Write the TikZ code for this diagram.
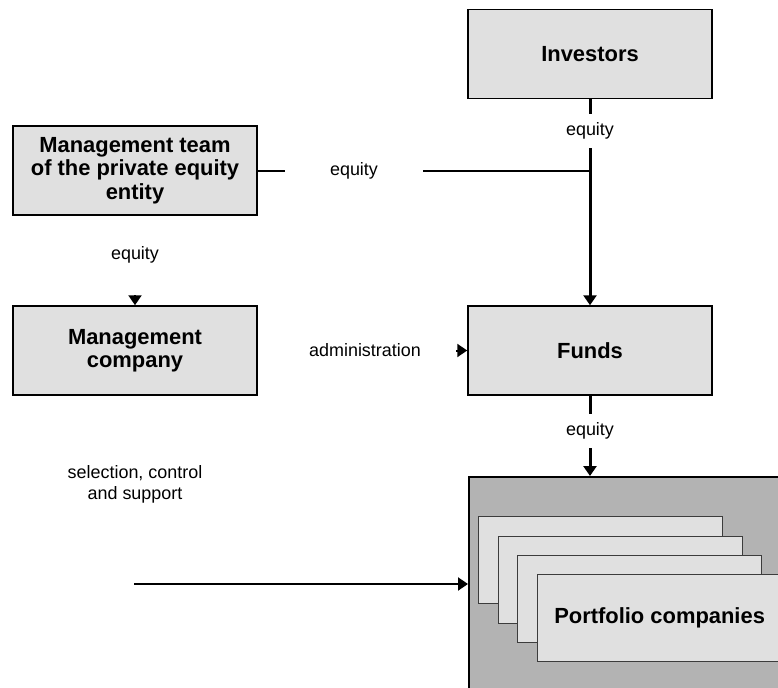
\documentclass[tikz,border=0pt]{standalone}
\usepackage{fontspec}
\setmainfont{Liberation Sans}
\usetikzlibrary{arrows.meta}
\definecolor{boxgray}{RGB}{224,224,224}
\definecolor{holdgray}{RGB}{179,179,179}
\definecolor{edgegray}{RGB}{60,60,60}
\tikzset{
  entity box/.style={%
    draw, line width=1.5bp, fill=boxgray,
    minimum width=244bp, minimum height=89bp, inner sep=0pt,
    align=center, font=\bfseries\fontsize{22}{23.5}\selectfont,
  },
  flow label/.style={inner sep=0pt, align=center, font=\fontsize{18}{21}\selectfont},
  plain flow/.style={line width=2bp},
  flow/.style={line width=2bp, -{Triangle[length=10bp,width=13bp]}},
  heavy/.style={line width=3bp},
  holding/.style={draw, line width=1.5bp, fill=holdgray, anchor=north west},
  company sheet/.style={%
    draw=edgegray, line width=1.2bp, fill=boxgray, anchor=north west,
    minimum width=244bp, minimum height=87bp, inner sep=0pt,
    font=\bfseries\fontsize{22}{24}\selectfont,
  },
}

\begin{document}
\begin{tikzpicture}[x=1bp,y=-1bp]
\useasboundingbox (0,0) rectangle (778,688);
\fill[white] (0,0) rectangle (778,688);
\clip (0,0) rectangle (778,688);
% boxes
\node[entity box] (inv) at (590,54) {Investors};
\node[entity box] (team) at (135,170.5) {Management team\\of the private equity\\entity};
\node[entity box] (mgmt) at (135,350.5) {Management\\company};
\node[entity box] (funds) at (590,350.5) {Funds};
\node[holding, minimum width=330bp, minimum height=230bp] (pf) at (468,476) {};
\foreach \i/\x/\y in {1/478/516,2/498/536,3/517/555}
  \node[company sheet] (sheet\i) at (\x,\y) {};
\node[company sheet] (sheet4) at (537,574) {Portfolio companies};
% labels
\node[flow label, minimum height=34bp] (eqinv) at (590,131) {equity};
\node[flow label, minimum width=138bp] (eqteam) at (354,170.5) {equity};
\node[flow label, minimum height=80bp] (eqmgmt) at (135,255) {equity};
\node[flow label, minimum width=182bp] (admin) at (365,350.5) {administration};
\node[flow label, minimum height=34bp] (eqfunds) at (590,431) {equity};
\node[flow label] (select) at (135,484) {selection, control\\and support};
\coordinate (join) at (590,170.5);
\coordinate (selstart) at (134,584);
% connectors
\draw[plain flow, heavy] (inv) -- (eqinv);
\draw[flow, heavy] (eqinv) -- (funds);
\draw[plain flow] (team) -- (eqteam);
\draw[plain flow] (eqteam) -- (join);
\draw[flow] (eqmgmt) -- (mgmt);
\draw[flow] (admin) -- (funds);
\draw[plain flow, heavy] (funds) -- (eqfunds);
\draw[flow, heavy] (eqfunds) -- (pf.north -| eqfunds);
\draw[flow] (selstart) -- (selstart -| pf.west);
\end{tikzpicture}
\end{document}
